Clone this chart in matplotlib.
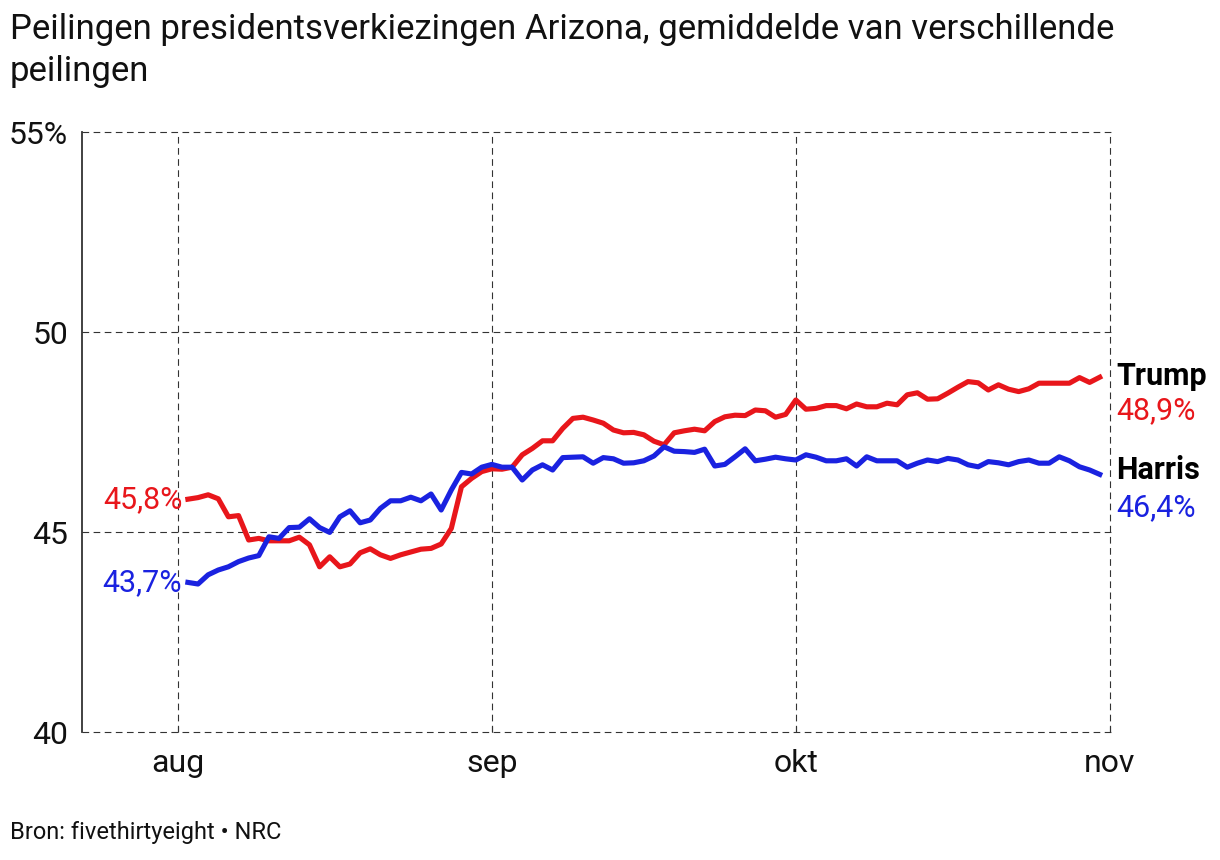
import pandas as pd
import matplotlib as mpl
import matplotlib.pyplot as plt

mpl.rcParams['font.family'] = ['Roboto', 'DejaVu Sans']

# daily poll averages, 2 aug - 31 okt
start = pd.Timestamp("2024-08-02")
trump = [45.82, 45.86, 45.93, 45.83, 45.38, 45.41, 44.80, 44.84, 44.78, 44.78,
         44.78, 44.87, 44.68, 44.13, 44.38, 44.13, 44.20, 44.48, 44.58, 44.43,
         44.34, 44.43, 44.50, 44.57, 44.59, 44.70, 45.09, 46.13, 46.34, 46.51,
         46.58, 46.57, 46.62, 46.93, 47.09, 47.28, 47.28, 47.59, 47.84, 47.87,
         47.80, 47.72, 47.55, 47.48, 47.49, 47.43, 47.27, 47.18, 47.48, 47.53,
         47.57, 47.53, 47.76, 47.88, 47.92, 47.91, 48.05, 48.03, 47.87, 47.94,
         48.30, 48.07, 48.09, 48.16, 48.16, 48.08, 48.20, 48.13, 48.13, 48.22,
         48.18, 48.43, 48.48, 48.32, 48.33, 48.47, 48.62, 48.76, 48.73, 48.55,
         48.68, 48.57, 48.51, 48.58, 48.72, 48.72, 48.72, 48.72, 48.86, 48.74,
         48.87]
harris = [43.74, 43.70, 43.93, 44.05, 44.13, 44.26, 44.35, 44.41, 44.88, 44.84,
          45.11, 45.12, 45.33, 45.11, 44.99, 45.38, 45.53, 45.23, 45.30, 45.59,
          45.78, 45.78, 45.87, 45.78, 45.95, 45.55, 46.05, 46.49, 46.45, 46.62,
          46.69, 46.62, 46.62, 46.30, 46.55, 46.68, 46.55, 46.86, 46.87, 46.88,
          46.72, 46.86, 46.83, 46.72, 46.73, 46.78, 46.90, 47.13, 47.02, 47.01,
          46.99, 47.07, 46.65, 46.69, 46.88, 47.08, 46.78, 46.82, 46.87, 46.83,
          46.80, 46.93, 46.87, 46.78, 46.78, 46.83, 46.65, 46.88, 46.78, 46.78,
          46.78, 46.62, 46.72, 46.80, 46.76, 46.84, 46.80, 46.68, 46.63, 46.76,
          46.73, 46.68, 46.76, 46.80, 46.72, 46.72, 46.88, 46.78, 46.63, 46.55,
          46.44]
dates = pd.date_range(start, periods=len(trump), freq="D")

month_ticks = pd.to_datetime(["2024-08-01", "2024-09-01", "2024-10-01", "2024-11-01"])
month_labels = ["aug", "sep", "okt", "nov"]
y_ticks = [40, 45, 50, 55]
y_labels = ["40", "45", "50", "55%"]

red = "#e8161b"
blue = "#1a22e0"
ink = "#111111"
dash = (0, (6, 4))

fig = plt.figure(figsize=(12.2, 8.6), dpi=100)
ax = fig.add_axes([82 / 1220, 128 / 860, 1030 / 1220, 600 / 860])

ax.plot(dates, trump, color=red, linewidth=3.7, zorder=3)
ax.plot(dates, harris, color=blue, linewidth=3.7, zorder=3)

ax.set_ylim(40, 55)
ax.set_xlim(start - pd.Timedelta(days=10.45), pd.Timestamp("2024-11-01") + pd.Timedelta(hours=5))
ax.set_yticks(y_ticks)
ax.set_yticklabels(y_labels)
ax.set_xticks(month_ticks)
ax.set_xticklabels(month_labels)
ax.tick_params(axis="y", length=0, labelsize=23, pad=10, colors=ink)
ax.tick_params(axis="x", direction="in", length=4, width=0.8, color="#333333",
               labelsize=23, pad=12, labelcolor=ink)

# dashed grid, drawn unclipped so the edge lines show
for yv in y_ticks:
    ax.axhline(yv, linestyle=dash, linewidth=0.8, color="#333333", clip_on=False, zorder=1)
for xv in month_ticks:
    ax.axvline(xv, linestyle=dash, linewidth=0.8, color="#333333", clip_on=False, zorder=1)
for s in ["top", "right", "bottom"]:
    ax.spines[s].set_visible(False)
ax.spines["left"].set_color("#333333")
ax.spines["left"].set_linewidth(1.3)

# start / end labels
xs = dates[0] - pd.Timedelta(days=0.55)
ax.text(xs, trump[0], "45,8%", color=red, fontsize=22, ha="right", va="center")
ax.text(xs, harris[0], "43,7%", color=blue, fontsize=22, ha="right", va="center")
xe = dates[-1] + pd.Timedelta(days=1.6)
ax.text(xe, 48.9, "Trump", color="black", fontsize=22, fontweight="bold", ha="left",
        va="center", clip_on=False)
ax.text(xe, 48.03, "48,9%", color=red, fontsize=22, ha="left", va="center", clip_on=False)
ax.text(xe, 46.55, "Harris", color="black", fontsize=22, fontweight="bold", ha="left",
        va="center", clip_on=False)
ax.text(xe, 45.6, "46,4%", color=blue, fontsize=22, ha="left", va="center", clip_on=False)

fig.text(10 / 1220, 1 - 30 / 860, "Peilingen presidentsverkiezingen Arizona, gemiddelde van verschillende",
         fontsize=25, ha="left", va="center", color=ink)
fig.text(10 / 1220, 1 - 72 / 860, "peilingen",
         fontsize=25, ha="left", va="center", color=ink)
fig.text(10 / 1220, 1 - 832 / 860, "Bron: fivethirtyeight \u2022 NRC", fontsize=17,
         ha="left", va="center", color=ink)

plt.savefig("out.png", dpi=100)
